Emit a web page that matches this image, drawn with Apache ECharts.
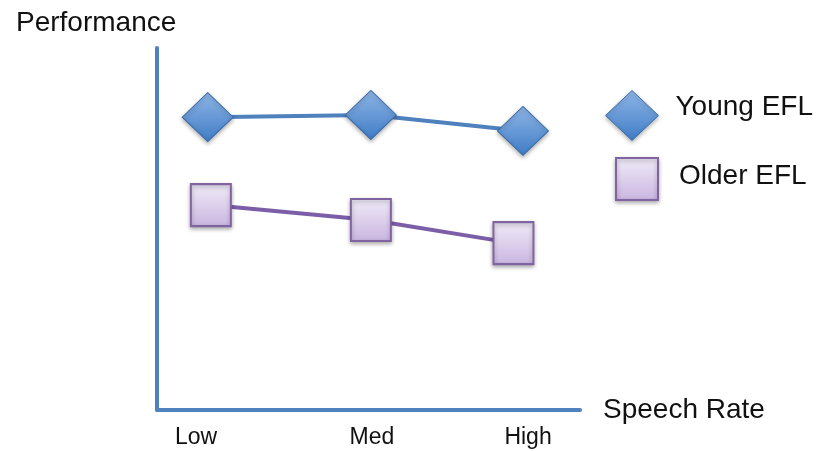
<!DOCTYPE html>
<html>
<head>
<meta charset="utf-8">
<script src="https://cdn.jsdelivr.net/npm/echarts@6/dist/echarts.min.js"></script>
<style>
html,body{margin:0;padding:0;background:#fff;}
#chart{width:822px;height:451px;}
</style>
</head>
<body>
<div id="chart"></div>
<script>
var categories = ['Low', 'Med', 'High'];
var labelPositions = [0.926, 2.037, 3.022];
var youngX = [1.0, 2.03, 2.99];
var youngEFL = [80.9, 81.5, 77.1];
var olderX = [1.02, 2.03, 2.93];
var olderEFL = [56.6, 52.5, 46.1];

function pairs(xs, ys) { return xs.map(function (x, i) { return [x, ys[i]]; }); }

var FONT = 'Liberation Sans';
var chart = echarts.init(document.getElementById('chart'));

var diamondFill = new echarts.graphic.LinearGradient(0, 0, 0, 1, [
  { offset: 0, color: '#8fb6e6' }, { offset: 1, color: '#3f7cc6' }
]);
var squareFill = new echarts.graphic.LinearGradient(0, 0, 0, 1, [
  { offset: 0, color: '#f1ecf8' }, { offset: 1, color: '#c9b4df' }
]);
var diamondStyle = { color: diamondFill, borderColor: '#3c6ea8', borderWidth: 1,
  shadowBlur: 4, shadowColor: 'rgba(0,0,0,0.3)', shadowOffsetY: 2 };
var squareStyle = { color: squareFill, borderColor: '#8064a2', borderWidth: 2,
  shadowBlur: 4, shadowColor: 'rgba(0,0,0,0.3)', shadowOffsetY: 2 };

chart.setOption({
  animation: false,
  title: {
    text: 'Performance', left: 11, top: 4,
    textStyle: { fontFamily: FONT, fontSize: 28, fontWeight: 'normal', color: '#111' }
  },
  legend: [{
    data: [{ name: 'Young EFL', icon: 'diamond', itemStyle: diamondStyle }],
    left: 600, top: 85, padding: 5, itemWidth: 53, itemHeight: 50,
    formatter: '{t|{name}}',
    textStyle: { fontFamily: FONT, fontSize: 28, color: '#111',
      rich: { t: { fontFamily: FONT, fontSize: 28, color: '#111', padding: [0, 0, 16, 12] } } }
  }, {
    data: [{ name: 'Older EFL', icon: 'rect', itemStyle: squareStyle }],
    left: 610, top: 152, padding: 5, itemWidth: 42, itemHeight: 42,
    formatter: '{t|{name}}',
    textStyle: { fontFamily: FONT, fontSize: 28, color: '#111',
      rich: { t: { fontFamily: FONT, fontSize: 28, color: '#111', padding: [0, 0, 6, 16] } } }
  }],
  grid: { left: 157, right: 242, top: 48, bottom: 41, containLabel: false },
  xAxis: {
    type: 'value', min: 0.68, max: 3.35,
    name: 'Speech Rate', nameLocation: 'end', nameGap: 23,
    nameTextStyle: { fontFamily: FONT, fontSize: 28, color: '#111', padding: [8, 0, 0, 0] },
    axisLine: { show: true, lineStyle: { color: '#4f81bd', width: 4 } },
    axisTick: { show: false },
    splitLine: { show: false },
    axisLabel: {
      customValues: labelPositions,
      formatter: function (v) { return categories[labelPositions.indexOf(v)]; },
      fontFamily: FONT, fontSize: 23, color: '#111', margin: 16
    }
  },
  yAxis: {
    type: 'value', min: 0, max: 100,
    axisLine: { show: true, lineStyle: { color: '#4f81bd', width: 4 } },
    axisTick: { show: false }, axisLabel: { show: false }, splitLine: { show: false }
  },
  series: [{
    name: 'Young EFL', type: 'line', data: pairs(youngX, youngEFL),
    symbol: 'diamond', symbolSize: [51, 49],
    lineStyle: { color: '#4f81bd', width: 4 },
    itemStyle: diamondStyle
  }, {
    name: 'Older EFL', type: 'line', data: pairs(olderX, olderEFL),
    symbol: 'rect', symbolSize: [40, 42],
    lineStyle: { color: '#7b5ea7', width: 4 },
    itemStyle: squareStyle
  }]
});
</script>
</body>
</html>
